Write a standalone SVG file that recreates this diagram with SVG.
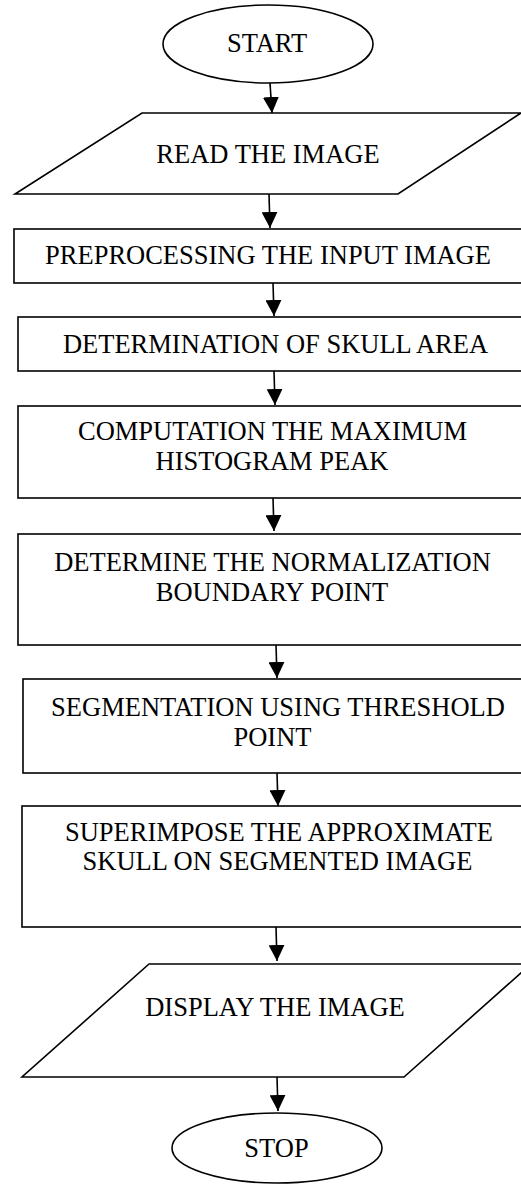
<svg xmlns="http://www.w3.org/2000/svg" width="521" height="1184" viewBox="0 0 521 1184">
<defs>
<marker id="arr" markerWidth="16" markerHeight="16" viewBox="0 0 16 16" refX="16" refY="8" orient="auto" markerUnits="userSpaceOnUse">
<path d="M0,0 L16,8 L0,16 Z" fill="#000"/>
</marker>
<style>
.s{fill:#fff;stroke:#000;stroke-width:1.6}
.t{font-family:"Liberation Serif","Times New Roman",serif;font-size:26.5px;fill:#000;text-anchor:middle}
.c line{stroke:#000;stroke-width:1.6;marker-end:url(#arr)}
</style>
</defs>
<rect width="521" height="1184" fill="#fff"/>
<g id="n-start"><ellipse class="s" cx="268" cy="44" rx="105" ry="39"/><text class="t" x="267" y="52">START</text></g>
<g id="n-read"><polygon class="s" points="142,113 521,113 398,194 15,194"/><text class="t" x="268" y="163">READ THE IMAGE</text></g>
<g id="n-pre"><rect class="s" x="14" y="229" width="520" height="54"/><text class="t" x="268" y="264">PREPROCESSING THE INPUT IMAGE</text></g>
<g id="n-skull"><rect class="s" x="18" y="317" width="520" height="54"/><text class="t" x="275.5" y="353">DETERMINATION OF SKULL AREA</text></g>
<g id="n-hist"><rect class="s" x="18" y="406" width="520" height="92"/><text class="t" x="272.5" y="440">COMPUTATION THE MAXIMUM</text><text class="t" x="272" y="470">HISTOGRAM PEAK</text></g>
<g id="n-norm"><rect class="s" x="18" y="534" width="520" height="111"/><text class="t" x="272.5" y="571">DETERMINE THE NORMALIZATION</text><text class="t" x="272" y="601">BOUNDARY POINT</text></g>
<g id="n-seg"><rect class="s" x="23" y="679" width="520" height="94"/><text class="t" x="278" y="716">SEGMENTATION USING THRESHOLD</text><text class="t" x="272.5" y="746">POINT</text></g>
<g id="n-sup"><rect class="s" x="22" y="806" width="520" height="121"/><text class="t" x="279" y="841">SUPERIMPOSE THE APPROXIMATE</text><text class="t" x="277.5" y="870">SKULL ON SEGMENTED IMAGE</text></g>
<g id="n-disp"><polygon class="s" points="149,964 531,964 404,1077 22,1077"/><text class="t" x="275" y="1016">DISPLAY THE IMAGE</text></g>
<g id="n-stop"><ellipse class="s" cx="277" cy="1148" rx="105" ry="35"/><text class="t" x="276.5" y="1157">STOP</text></g>
<g id="connectors" class="c">
<line x1="270" y1="83" x2="272" y2="113"/>
<line x1="269" y1="194" x2="270" y2="228"/>
<line x1="273" y1="283" x2="274" y2="316"/>
<line x1="274" y1="371" x2="275" y2="405"/>
<line x1="273" y1="498" x2="274" y2="531"/>
<line x1="276" y1="645" x2="277" y2="678"/>
<line x1="277" y1="773" x2="278" y2="806"/>
<line x1="276" y1="927" x2="277" y2="961"/>
<line x1="277" y1="1077" x2="278" y2="1111"/>
</g>
</svg>
